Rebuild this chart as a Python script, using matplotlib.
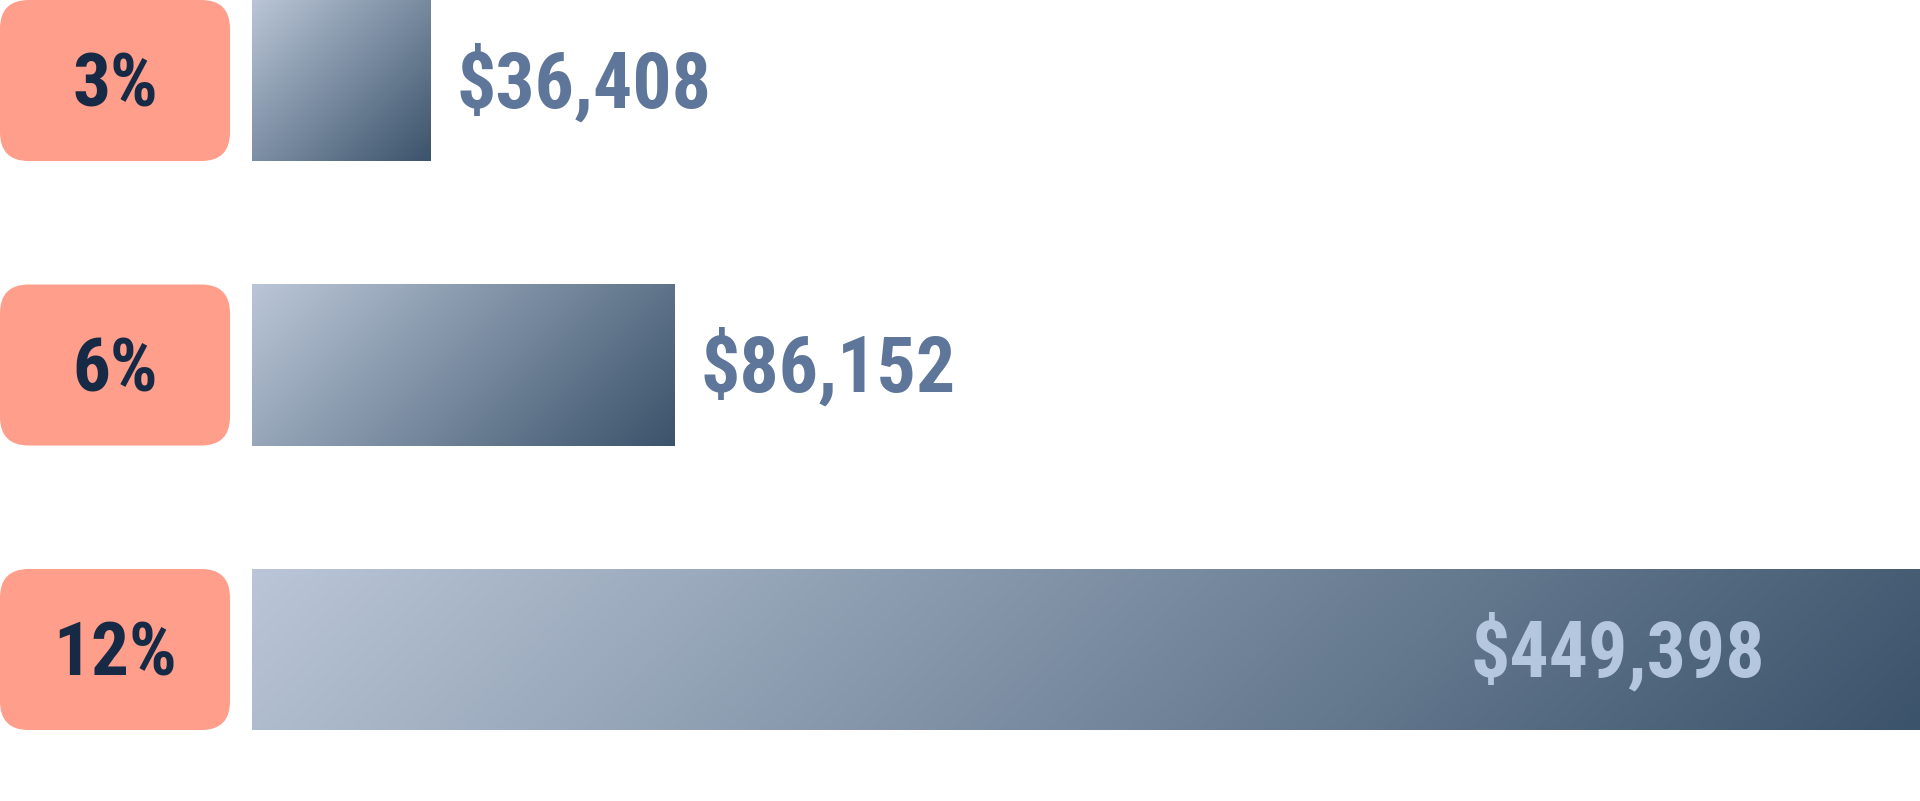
import matplotlib.pyplot as plt
import numpy as np
from matplotlib import font_manager
from matplotlib.colors import LinearSegmentedColormap
from matplotlib.patches import FancyBboxPatch

# data
rates = ['3%', '6%', '12%']
amounts = [36408, 86152, 449398]

XMAX = 340000
H = 0.566
YLIM = (2.5325, -0.283)

# narrow bold face if there is one, else Liberation Sans a bit smaller
FONT, WEIGHT, VSIZE, LSIZE = 'Liberation Sans', 'bold', 48, 46
for name in ['Liberation Sans Narrow', 'Arial Narrow', 'Roboto Condensed',
             'Open Sans Condensed', 'Noto Sans Condensed']:
    weights = [f.weight for f in font_manager.fontManager.ttflist if f.name == name]
    if weights:
        FONT, VSIZE, LSIZE = name, 56, 54
        wnum = [w if isinstance(w, int) else 700 for w in weights]
        WEIGHT = max(wnum)
        break

grad = LinearSegmentedColormap.from_list('g', ['#bac6d7', '#3b536b'])

fig = plt.figure(figsize=(19.2, 8.01), dpi=100)

# label boxes
axl = fig.add_axes([0, 0, 230 / 1920, 1])
axl.set_xlim(0, 1)
axl.set_ylim(*YLIM)
axl.axis('off')
for i, r in enumerate(rates):
    box = FancyBboxPatch((0, i - H / 2), 1, H,
                         boxstyle='round,pad=0,rounding_size=0.125',
                         mutation_aspect=230 / 284.5,
                         fc='#fe9e8b', ec='none')
    axl.add_patch(box)
    axl.annotate(r, (0.5, i), xytext=(0, -26), textcoords='offset pixels',
                 ha='center', va='baseline', fontsize=LSIZE, fontweight=WEIGHT,
                 color='#172a45', family=FONT)

# bars
ax = fig.add_axes([252 / 1920, 0, 1668 / 1920, 1])
ax.set_xlim(0, XMAX)
ax.set_ylim(*YLIM)
ax.axis('off')

bars = ax.barh(range(len(amounts)), amounts, height=H, color='none')
px_x = 1668 / XMAX
for i, (b, v) in enumerate(zip(bars, amounts)):
    wv = min(v, XMAX)
    wx = wv * px_x
    wy = 161
    u = np.linspace(0, 1, 400)[None, :]
    w = np.linspace(0, 1, 100)[:, None]
    t = (u * wx + w * wy) / (wx + wy)
    im = ax.imshow(t, cmap=grad, vmin=0, vmax=1, aspect='auto', origin='upper',
                   extent=(0, wv, i + H / 2, i - H / 2), interpolation='bilinear')
    im.set_clip_path(b)
    label = '${:,}'.format(v)
    if v > XMAX:
        ax.annotate(label, (XMAX, i), xytext=(-155, -27), textcoords='offset pixels',
                    ha='right', va='baseline', fontsize=VSIZE, fontweight=WEIGHT,
                    color='#b5c7de', family=FONT)
    else:
        ax.annotate(label, (v, i), xytext=(26, -27), textcoords='offset pixels',
                    ha='left', va='baseline', fontsize=VSIZE, fontweight=WEIGHT,
                    color='#5e7699', family=FONT)

fig.savefig('out.png', dpi=100)
